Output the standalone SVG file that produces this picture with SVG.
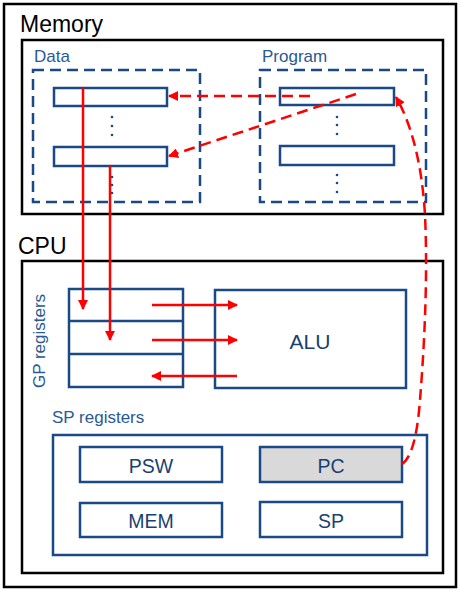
<svg xmlns="http://www.w3.org/2000/svg" width="460" height="591" viewBox="0 0 460 591">
<style>
.frame{fill:#fff;stroke:#000;stroke-width:2.5}
.dash{fill:none;stroke:#1a4a85;stroke-width:2.5;stroke-dasharray:11 6}
.slot{fill:#fff;stroke:#1a4a85;stroke-width:2.5}
.big{font-family:"Liberation Sans",Arial,sans-serif;font-size:23px;fill:#000}
.lbl{font-family:"Liberation Sans",Arial,sans-serif;font-size:17px;fill:#2a5a92}
.reg{font-family:"Liberation Sans",Arial,sans-serif;font-size:19.5px;fill:#1a3f70;text-anchor:middle}
.dot{fill:#1a4a85}
.red{fill:none;stroke:#ff0000;stroke-width:2.5}
.reddash{fill:none;stroke:#ff0000;stroke-width:2.5;stroke-dasharray:11 6}
</style>
<defs>
<marker id="ah" viewBox="0 0 10 10" refX="9" refY="5" markerWidth="4" markerHeight="4" orient="auto" markerUnits="strokeWidth">
<path d="M0,0 L10,5 L0,10 z" fill="#ff0000"/>
</marker>
</defs>
<rect x="0" y="0" width="460" height="591" fill="#fff"/>
<g id="outer"><rect class="frame" x="4" y="4" width="452" height="583"/></g>
<g id="memory">
<rect class="frame" x="22" y="40" width="421" height="174"/>
<text class="big" x="20" y="32">Memory</text>
</g>
<g id="data">
<text class="lbl" x="34" y="62">Data</text>
<rect class="dash" x="33" y="70" width="167" height="132"/>
<rect class="slot" x="54" y="88" width="113" height="18"/>
<rect class="slot" x="54" y="147" width="113" height="19"/>
<circle class="dot" cx="112" cy="117" r="1.3"/><circle class="dot" cx="112" cy="126" r="1.3"/><circle class="dot" cx="112" cy="135" r="1.3"/>
<circle class="dot" cx="112" cy="177" r="1.3"/><circle class="dot" cx="112" cy="185" r="1.3"/><circle class="dot" cx="112" cy="193" r="1.3"/>
</g>
<g id="program">
<text class="lbl" x="262" y="62">Program</text>
<rect class="dash" x="260" y="70" width="166" height="132"/>
<rect class="slot" x="280" y="88" width="114" height="17"/>
<rect class="slot" x="280" y="146" width="114" height="19"/>
<circle class="dot" cx="337" cy="117" r="1.3"/><circle class="dot" cx="337" cy="125" r="1.3"/><circle class="dot" cx="337" cy="134" r="1.3"/>
<circle class="dot" cx="337" cy="175" r="1.3"/><circle class="dot" cx="337" cy="183" r="1.3"/><circle class="dot" cx="337" cy="192" r="1.3"/>
</g>
<g id="cpu">
<rect class="frame" x="22" y="261" width="421" height="312"/>
<text class="big" x="18" y="254">CPU</text>
</g>
<g id="gp">
<rect class="slot" x="69" y="289" width="114" height="98"/>
<line x1="69" y1="321" x2="183" y2="321" stroke="#1a4a85" stroke-width="2.5"/>
<line x1="69" y1="354" x2="183" y2="354" stroke="#1a4a85" stroke-width="2.5"/>
<text class="lbl" transform="translate(45,341) rotate(-90)" text-anchor="middle">GP registers</text>
</g>
<g id="alu">
<rect class="slot" x="215" y="290" width="191" height="98"/>
<text x="310" y="349" font-family="'Liberation Sans',Arial,sans-serif" font-size="21" fill="#1a3f70" text-anchor="middle">ALU</text>
</g>
<g id="sp">
<text class="lbl" x="52" y="423">SP registers</text>
<rect class="slot" x="53" y="435" width="374" height="120"/>
</g>
<g id="psw"><rect class="slot" x="80" y="447" width="142" height="35"/><text class="reg" x="151" y="473">PSW</text></g>
<g id="pc"><rect class="slot" x="260" y="447" width="142" height="35" style="fill:#d9d9d9"/><text class="reg" x="331" y="473">PC</text></g>
<g id="mem"><rect class="slot" x="80" y="503" width="142" height="34"/><text class="reg" x="151" y="528">MEM</text></g>
<g id="spreg"><rect class="slot" x="260" y="502" width="142" height="35"/><text class="reg" x="331" y="528">SP</text></g>
<g id="connectors">
<line class="red" x1="83" y1="88" x2="83" y2="309" marker-end="url(#ah)"/>
<line class="red" x1="110" y1="166" x2="110" y2="340" marker-end="url(#ah)"/>
<line class="red" x1="152" y1="305" x2="237" y2="305" marker-end="url(#ah)"/>
<line class="red" x1="152" y1="340" x2="237" y2="340" marker-end="url(#ah)"/>
<line class="red" x1="237" y1="376" x2="152" y2="376" marker-end="url(#ah)"/>
<line class="reddash" x1="310" y1="96" x2="169" y2="96" marker-end="url(#ah)"/>
<line class="reddash" x1="356" y1="94" x2="169" y2="156" marker-end="url(#ah)"/>
<path class="reddash" d="M402,464 C414,456 418,425 420,400 C424,350 428,280 425,215 C422,165 412,125 396,97" marker-end="url(#ah)"/>
</g>
</svg>
